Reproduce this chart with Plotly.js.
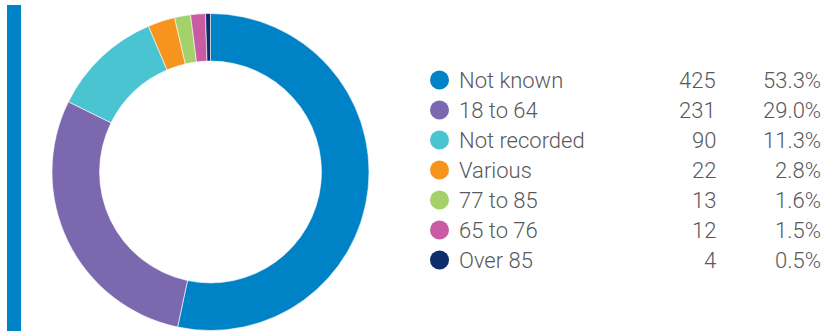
<!DOCTYPE html>
<html><head><meta charset="utf-8">
<script src="https://cdn.plot.ly/plotly-3.0.1.min.js"></script>
<style>html,body{margin:0;padding:0;background:#fff}#c{width:825px;height:331px}</style>
</head><body><div id="c"></div>
<script>
const labels = ["Not known","18 to 64","Not recorded","Various","77 to 85","65 to 76","Over 85"];
const counts = [425,231,90,22,13,12,4];
const percents = ["53.3%","29.0%","11.3%","2.8%","1.6%","1.5%","0.5%"];
const colors = ["#0083C6","#7B68AE","#4BC4D2","#F7941E","#A4D16A","#C85BA2","#0D2D6B"];

const W = 825, H = 331;
const rowY0 = 80, rowStep = 30;
const textColor = "#58595B";
const font = {family:"Roboto, 'Liberation Sans', sans-serif", size:22, color:textColor, weight:300};

const pie = {
  type:"pie", labels:labels, values:counts, sort:false, direction:"clockwise", rotation:0,
  hole:0.70, textinfo:"none", hoverinfo:"label+value+percent",
  marker:{colors:colors, line:{color:"#ffffff", width:0.6}},
  domain:{x:[52/W,369/W], y:[0.5/H,317.5/H]}, showlegend:false
};

const rowsY = labels.map((_,i)=>rowY0 + i*rowStep);
const markers = {
  type:"scatter", mode:"markers", x:labels.map(()=>439.5), y:rowsY,
  marker:{color:colors, size:19, line:{width:0}}, showlegend:false, hoverinfo:"skip",
  xaxis:"x", yaxis:"y"
};

const annotations = [];
labels.forEach((l,i)=>{
  annotations.push({xref:"x",yref:"y",x:457,y:rowsY[i],text:l,showarrow:false,xanchor:"left",yanchor:"middle",font:font});
  annotations.push({xref:"x",yref:"y",x:718,y:rowsY[i],text:String(counts[i]),showarrow:false,xanchor:"right",yanchor:"middle",font:font});
  annotations.push({xref:"x",yref:"y",x:823,y:rowsY[i],text:percents[i],showarrow:false,xanchor:"right",yanchor:"middle",font:font});
});

const layout = {
  width:W, height:H, margin:{l:0,r:0,t:0,b:0}, paper_bgcolor:"#fff", plot_bgcolor:"rgba(0,0,0,0)",
  xaxis:{range:[0,W], visible:false, fixedrange:true},
  yaxis:{range:[H,0], visible:false, fixedrange:true},
  shapes:[{type:"rect", xref:"paper", yref:"paper", x0:7/W, x1:21/W, y0:0, y1:(H-5)/H, fillcolor:"#0083C6", line:{width:0}, layer:"below"}],
  annotations:annotations
};
Plotly.newPlot("c",[pie,markers],layout,{displayModeBar:false,staticPlot:true});
</script></body></html>
